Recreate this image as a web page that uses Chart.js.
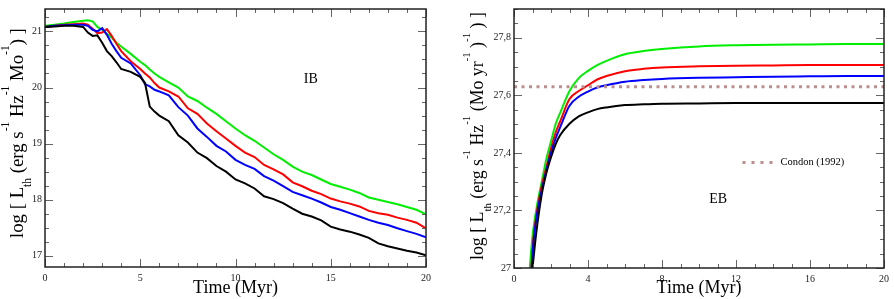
<!DOCTYPE html>
<html>
<head>
<meta charset="utf-8">
<script src="https://cdn.jsdelivr.net/npm/chart.js@4.4.0/dist/chart.umd.min.js"></script>
<style>
  html, body { margin: 0; padding: 0; background: #fff; }
  #wrap { position: relative; width: 894px; height: 299px; overflow: hidden; }
  #ib { position: absolute; left: 0; top: 0; }
  #eb { position: absolute; left: 450px; top: 0; }
</style>
</head>
<body>
<div id="wrap">
  <canvas id="ib" width="450" height="299"></canvas>
  <canvas id="eb" width="444" height="299"></canvas>
</div>
<script>
/* ---- data: IB panel (instantaneous burst) ---- */
const IB_TIME = [0, 0.5, 1, 1.5, 2, 2.25, 2.5, 2.75, 3, 3.25, 3.5, 3.75, 4, 4.5, 5, 5.25, 5.5, 5.75, 6,
  6.5, 7, 7.5, 8, 8.5, 9, 9.5, 10, 10.5, 11, 11.5, 12, 12.5, 13, 13.5, 14, 14.5, 15, 15.5, 16, 16.5,
  17, 17.5, 18, 18.5, 19, 19.5, 20];
const IB_GREEN = [21.10, 21.12, 21.14, 21.17, 21.19, 21.20, 21.18, 21.08, 21.03, 20.96, 20.89, 20.80, 20.73,
  20.60, 20.46, 20.40, 20.32, 20.25, 20.19,
  20.09, 20.00, 19.84, 19.76, 19.64, 19.53, 19.40, 19.27, 19.15, 19.05, 18.93, 18.81, 18.71, 18.59, 18.50,
  18.44, 18.36, 18.28, 18.23, 18.18, 18.12, 18.04, 18.00, 17.96, 17.92, 17.87, 17.82, 17.74];
const IB_RED = [21.08, 21.10, 21.12, 21.13, 21.14, 21.12, 21.05, 20.97, 20.98, 21.04, 20.92, 20.78, 20.65,
  20.47, 20.33, 20.25, 20.18, 20.08, 20.00,
  19.93, 19.84, 19.63, 19.53, 19.36, 19.22, 19.09, 18.96, 18.84, 18.76, 18.62, 18.54, 18.45, 18.31, 18.24,
  18.16, 18.10, 18.02, 17.97, 17.93, 17.88, 17.80, 17.76, 17.73, 17.68, 17.64, 17.59, 17.49];
const IB_BLUE = [21.08, 21.10, 21.11, 21.12, 21.12, 21.10, 21.03, 21.00, 21.06, 20.94, 20.78, 20.65, 20.53,
  20.43, 20.22, 20.06, 20.02, 19.96, 19.93,
  19.86, 19.65, 19.50, 19.27, 19.12, 18.96, 18.86, 18.71, 18.62, 18.55, 18.42, 18.34, 18.24, 18.14, 18.08,
  18.02, 17.95, 17.87, 17.82, 17.76, 17.70, 17.64, 17.59, 17.55, 17.49, 17.44, 17.39, 17.33];
const IB_BLACK = [21.08, 21.09, 21.10, 21.10, 21.08, 20.98, 20.92, 20.93, 20.80, 20.65, 20.56, 20.45, 20.33,
  20.28, 20.19, 20.08, 19.66, 19.57, 19.50,
  19.40, 19.15, 19.02, 18.84, 18.74, 18.60, 18.50, 18.36, 18.29, 18.20, 18.06, 18.01, 17.94, 17.84, 17.75,
  17.70, 17.63, 17.52, 17.47, 17.43, 17.38, 17.32, 17.22, 17.17, 17.13, 17.09, 17.06, 17.01];

/* ---- data: EB panel (extended burst) ---- */
const EB_GREEN_T = [0.85, 1.0, 1.25, 1.5, 1.75, 2, 2.25, 2.5, 3, 3.5, 4, 4.5, 5, 6, 7, 8, 10, 12, 14, 16, 18, 20];
const EB_GREEN   = [27.00, 27.11, 27.22, 27.30, 27.38, 27.44, 27.50, 27.54, 27.615, 27.66, 27.685, 27.705,
  27.72, 27.743, 27.754, 27.761, 27.77, 27.774, 27.776, 27.777, 27.778, 27.778];
const EB_RED_T = [0.94, 1.05, 1.25, 1.5, 1.75, 2, 2.25, 2.5, 3, 3.5, 4, 4.5, 5, 6, 7, 8, 10, 12, 14, 16, 18, 20];
const EB_RED   = [27.00, 27.10, 27.20, 27.285, 27.35, 27.415, 27.47, 27.51, 27.587, 27.615, 27.635, 27.655,
  27.667, 27.684, 27.692, 27.697, 27.701, 27.703, 27.704, 27.705, 27.705, 27.705];
const EB_BLUE_T = [0.95, 1.05, 1.25, 1.5, 1.75, 2, 2.25, 2.5, 3, 3.5, 4, 4.5, 5, 6, 7, 8, 10, 12, 14, 16, 18, 20];
const EB_BLUE   = [27.00, 27.09, 27.19, 27.27, 27.34, 27.40, 27.45, 27.49, 27.564, 27.595, 27.613, 27.627,
  27.635, 27.647, 27.653, 27.657, 27.661, 27.663, 27.665, 27.666, 27.667, 27.667];
const EB_BLACK_T = [1.0, 1.2, 1.5, 1.75, 2, 2.25, 2.5, 3, 3.5, 4, 4.5, 5, 6, 7, 8, 10, 12, 14, 16, 18, 20];
const EB_BLACK   = [27.00, 27.12, 27.256, 27.33, 27.385, 27.43, 27.462, 27.501, 27.527, 27.541, 27.552,
  27.558, 27.566, 27.569, 27.571, 27.572, 27.573, 27.573, 27.573, 27.573, 27.573];
const CONDON_T = [0, 20];
const CONDON   = [27.63, 27.63];

const SERIF = "'Liberation Serif', 'Times New Roman', serif";

function pts(xs, ys) { return xs.map((x, i) => ({ x, y: ys[i] })); }

function line(label, xs, ys, color, extra) {
  return Object.assign({
    label, data: pts(xs, ys), borderColor: color, borderWidth: 2,
    pointRadius: 0, fill: false, tension: 0,
  }, extra || {});
}

/* ---- inward ticks on all four sides + frame ---- */
const frameTicks = {
  id: 'frameTicks',
  afterDatasetsDraw(chart, args, o) {
    const { ctx, chartArea: a, scales: { x, y } } = chart;
    ctx.save();
    ctx.strokeStyle = '#666';
    ctx.lineWidth = 1;
    const isMajor = (v, step) => Math.abs(v / step - Math.round(v / step)) < 1e-6;
    for (let v = Math.ceil(x.min / o.xMinor - 1e-9) * o.xMinor; v <= x.max + 1e-9; v += o.xMinor) {
      const px = Math.round(x.getPixelForValue(v)) + 0.5;
      const len = isMajor(v, o.xMajor) ? 8 : 4;
      ctx.beginPath();
      ctx.moveTo(px, a.bottom); ctx.lineTo(px, a.bottom - len);
      ctx.moveTo(px, a.top); ctx.lineTo(px, a.top + len);
      ctx.stroke();
    }
    for (let v = Math.ceil(y.min / o.yMinor - 1e-9) * o.yMinor; v <= y.max + 1e-9; v += o.yMinor) {
      const py = Math.round(y.getPixelForValue(v)) + 0.5;
      const len = isMajor(v, o.yMajor) ? 8 : 4;
      ctx.beginPath();
      ctx.moveTo(a.left, py); ctx.lineTo(a.left + len, py);
      ctx.moveTo(a.right, py); ctx.lineTo(a.right - len, py);
      ctx.stroke();
    }
    ctx.strokeStyle = '#222';
    ctx.lineWidth = 1.5;
    ctx.strokeRect(a.left, a.top, a.right - a.left, a.bottom - a.top);
    ctx.restore();
  }
};

/* ---- axis titles with sub/superscripts, panel labels, legend ---- */
const labels = {
  id: 'labels',
  afterDraw(chart, args, o) {
    const { ctx, chartArea: a, scales: { x, y } } = chart;
    ctx.save();
    ctx.fillStyle = '#000';
    ctx.textBaseline = 'alphabetic';

    // x title
    ctx.font = '18px ' + SERIF;
    ctx.textAlign = 'center';
    ctx.fillText('Time (Myr)', (a.left + a.right) / 2, 293);

    // y title, rotated, built from pieces and fitted to the reference length
    let total = 0;
    o.yTitle.forEach(p => { ctx.font = (p[1] ? 11 : 18) + 'px ' + SERIF; total += ctx.measureText(p[0]).width; });
    const k = o.yTitleLen / total;
    ctx.translate(o.yTitleX, o.yTitleMid);
    ctx.rotate(-Math.PI / 2);
    ctx.textAlign = 'left';
    let cx = -o.yTitleLen / 2;
    o.yTitle.forEach(p => {
      ctx.font = ((p[1] ? 11 : 18) * k).toFixed(2) + 'px ' + SERIF;
      const dy = p[1] === 1 ? -13 * k : p[1] === -1 ? 8 * k : 0;
      ctx.fillText(p[0], cx, dy);
      cx += ctx.measureText(p[0]).width;
    });
    ctx.setTransform(1, 0, 0, 1, 0, 0);

    // panel tag
    ctx.font = '14px ' + SERIF;
    ctx.textAlign = 'center';
    ctx.textBaseline = 'middle';
    ctx.fillText(o.tag[0], x.getPixelForValue(o.tag[1]), y.getPixelForValue(o.tag[2]));

    // legend entry
    if (o.legend) {
      const lx = x.getPixelForValue(o.legend.x), ly = Math.round(y.getPixelForValue(o.legend.y)) + 0.5;
      ctx.fillStyle = o.legend.color;
      for (let i = 0; i < 4; i++) ctx.fillRect(lx + i * 9, ly - 1.5, 3, 3);
      ctx.fillStyle = '#000';
      ctx.font = '10.5px ' + SERIF;
      ctx.textAlign = 'left';
      ctx.fillText(o.legend.text, lx + 38, ly);
    }
    ctx.restore();
  }
};

function axes(xMax, xStep, yMin, yMax, yStep, fmt, yWidth, xHeight) {
  const tickFont = { family: SERIF, size: 10 };
  return {
    x: {
      type: 'linear', min: 0, max: xMax,
      grid: { display: false, drawTicks: false }, border: { display: false },
      ticks: { stepSize: xStep, font: tickFont, color: '#222', padding: 5, maxRotation: 0, includeBounds: false },
      afterFit: s => { s.height = xHeight; },
    },
    y: {
      type: 'linear', min: yMin, max: yMax,
      grid: { display: false, drawTicks: false }, border: { display: false },
      ticks: { stepSize: yStep, font: tickFont, color: '#222', padding: 3, includeBounds: false, callback: fmt },
      afterFit: s => { s.width = yWidth; },
    },
  };
}

new Chart(document.getElementById('ib'), {
  type: 'line',
  data: {
    datasets: [
      line('black', IB_TIME, IB_BLACK, '#000000'),
      line('blue', IB_TIME, IB_BLUE, '#0000ff'),
      line('red', IB_TIME, IB_RED, '#ff0000'),
      line('green', IB_TIME, IB_GREEN, '#00ee00'),
    ],
  },
  options: {
    responsive: false, animation: false,
    layout: { padding: { left: 0, top: 1, right: 24, bottom: 0 } },
    plugins: {
      legend: { display: false }, tooltip: { enabled: false },
      frameTicks: { xMajor: 5, xMinor: 1, yMajor: 1, yMinor: 0.25 },
      labels: {
        yTitleX: 23, yTitleMid: 133, yTitleLen: 210,
        yTitle: [['log [ L', 0], ['th', -1], [' (erg s', 0], ['-1', 1], [' Hz', 0], ['-1', 1],
                 [' Mo', 0], ['-1', 1], [') ]', 0]],
        tag: ['IB', 13.95, 20.15],
      },
    },
    scales: axes(20, 5, 16.8, 21.4, 1, v => String(v), 45, 32),
  },
  plugins: [frameTicks, labels],
});

new Chart(document.getElementById('eb'), {
  type: 'line',
  data: {
    datasets: [
      line('Condon (1992)', CONDON_T, CONDON, '#bc8f8f', { borderWidth: 3, borderDash: [3, 4.5] }),
      line('black', EB_BLACK_T, EB_BLACK, '#000000', { cubicInterpolationMode: 'monotone' }),
      line('blue', EB_BLUE_T, EB_BLUE, '#0000ff', { cubicInterpolationMode: 'monotone' }),
      line('red', EB_RED_T, EB_RED, '#ff0000', { cubicInterpolationMode: 'monotone' }),
      line('green', EB_GREEN_T, EB_GREEN, '#00ee00', { cubicInterpolationMode: 'monotone' }),
    ],
  },
  options: {
    responsive: false, animation: false,
    layout: { padding: { left: 0, top: 5, right: 6, bottom: 0 } },
    plugins: {
      legend: { display: false }, tooltip: { enabled: false },
      frameTicks: { xMajor: 4, xMinor: 1, yMajor: 0.2, yMinor: 0.05 },
      labels: {
        yTitleX: 33, yTitleMid: 136, yTitleLen: 248,
        yTitle: [['log [ L', 0], ['th', -1], [' (erg s', 0], ['-1', 1], [' Hz', 0], ['-1', 1],
                 [' (Mo yr', 0], ['-1', 1], [' )', 0], ['-1', 1], [' ) ]', 0]],
        tag: ['EB', 11.04, 27.24],
        legend: { x: 12.35, y: 27.37, text: 'Condon (1992)', color: '#bc8f8f' },
      },
    },
    scales: axes(20, 4, 27, 27.9, 0.2, v => String(Math.round(v * 10) / 10).replace('.', ','), 64, 31),
  },
  plugins: [frameTicks, labels],
});
</script>
</body>
</html>
